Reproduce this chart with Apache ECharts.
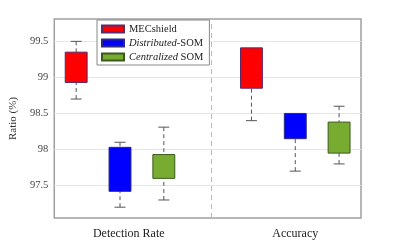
<!DOCTYPE html>
<html><head><meta charset="utf-8">
<script src="https://cdn.jsdelivr.net/npm/echarts@6/dist/echarts.min.js"></script>
<style>html,body{margin:0;padding:0;background:#fff}#c{width:399px;height:245px}</style>
</head><body><div id="c"></div>
<script>
// Data
var groupNames = ['Detection Rate', 'Accuracy'];
var groupLabelPos = [2.2, 6];
var seriesNames = ['MECshield', 'Distributed-SOM', 'Centralized SOM'];
// each item: [x position, min, q1, q3, max]
var mecshield = [[1, 98.70, 98.93, 99.35, 99.50], [5, 98.40, 98.85, 99.41, 99.41]];
var distributedSom = [[2, 97.20, 97.42, 98.03, 98.10], [6, 97.70, 98.15, 98.50, 98.50]];
var centralizedSom = [[3, 97.30, 97.60, 97.93, 98.31], [7, 97.80, 97.95, 98.38, 98.60]];
var yTicks = [97.5, 98, 98.5, 99, 99.5];
var separatorPos = 4.08;

var fills = ['#ff0000', '#0000ff', '#77ac30'];
var borders = ['#5b2a6e', '#2a2a80', '#3b5a1c'];
var FONT = '"Liberation Serif", "DejaVu Serif", serif';

function renderBox(params, api) {
  var x = api.value(0), mn = api.value(1), q1 = api.value(2), q3 = api.value(3), mx = api.value(4);
  var halfW = 0.25, capW = 0.125;
  var pL = api.coord([x - halfW, q3]);
  var pR = api.coord([x + halfW, q1]);
  var top = api.coord([x, mx]), uq = api.coord([x, q3]), lq = api.coord([x, q1]), bot = api.coord([x, mn]);
  var capL = api.coord([x - capW, mx])[0], capR = api.coord([x + capW, mx])[0];
  var wStyle = {stroke: '#555', lineWidth: 1, lineDash: [4, 3]};
  var cStyle = {stroke: '#555', lineWidth: 1};
  var children = [];
  if (mx > q3) {
    children.push({type: 'line', shape: {x1: top[0], y1: top[1], x2: uq[0], y2: uq[1]}, style: wStyle});
    children.push({type: 'line', shape: {x1: capL, y1: top[1], x2: capR, y2: top[1]}, style: cStyle});
  }
  if (mn < q1) {
    children.push({type: 'line', shape: {x1: bot[0], y1: bot[1], x2: lq[0], y2: lq[1]}, style: wStyle});
    children.push({type: 'line', shape: {x1: capL, y1: bot[1], x2: capR, y2: bot[1]}, style: cStyle});
  }
  children.push({type: 'rect', shape: {x: pL[0], y: pL[1], width: pR[0] - pL[0], height: pR[1] - pL[1]},
    style: {fill: fills[params.seriesIndex], stroke: borders[params.seriesIndex], lineWidth: 1}});
  return {type: 'group', children: children};
}

var datasets = [mecshield, distributedSom, centralizedSom];
var series = datasets.map(function (d, i) {
  return {
    name: seriesNames[i], type: 'custom', renderItem: renderBox, data: d,
    encode: {x: 0, y: [1, 2, 3, 4]},
    itemStyle: {color: fills[i], borderColor: borders[i], borderWidth: 1},
    z: 5
  };
});
series.push({
  type: 'line', data: [], silent: true, z: 1,
  markLine: {
    silent: true, symbol: 'none', label: {show: false}, z: 1,
    data: yTicks.map(function (v) { return {yAxis: v, lineStyle: {color: '#e6e6e6', width: 1, type: 'solid'}}; })
      .concat([{xAxis: separatorPos, lineStyle: {color: '#bbb', width: 1, type: [5, 4]}}])
  }
});

var chart = echarts.init(document.getElementById('c'), null, {renderer: 'canvas'});
chart.setOption({
  animation: false,
  textStyle: {fontFamily: FONT},
  grid: {left: 52, right: 38, top: 19, bottom: 27, show: true, borderColor: '#a0a0a0', borderWidth: 1.5, backgroundColor: 'transparent'},
  legend: {
    left: 97, top: 20, orient: 'vertical', icon: 'rect', itemWidth: 22, itemHeight: 7, itemGap: 2, z: 10,
    padding: [3, 6, 2, 4], backgroundColor: '#fff', borderColor: '#888', borderWidth: 1,
    data: seriesNames,
    formatter: function (n) {
      if (n === 'Distributed-SOM') return '{i|Distributed}-SOM';
      if (n === 'Centralized SOM') return '{i|Centralized} SOM';
      return n;
    },
    textStyle: {fontFamily: FONT, fontSize: 10.5, color: '#222', lineHeight: 12,
      rich: {i: {fontFamily: FONT, fontStyle: 'italic', fontSize: 10.5, color: '#222'}}}
  },
  xAxis: {
    type: 'value', min: 0.5, max: 7.5,
    axisLine: {show: false}, axisTick: {show: false}, splitLine: {show: false},
    axisLabel: {
      customValues: groupLabelPos, margin: 10, fontSize: 12, color: '#222', fontFamily: FONT,
      formatter: function (v) {
        var idx = groupLabelPos.indexOf(v);
        return idx >= 0 ? groupNames[idx] : '';
      }
    }
  },
  yAxis: [{
    type: 'value', min: 97.05, max: 99.81,
    name: 'Ratio (%)', nameLocation: 'middle', nameGap: 26, nameRotate: 90,
    nameTextStyle: {fontFamily: FONT, fontSize: 11, color: '#333'},
    axisLine: {show: false},
    axisTick: {show: true, inside: true, length: 4, customValues: yTicks, lineStyle: {color: '#888'}},
    axisLabel: {customValues: yTicks, margin: 6, fontSize: 10.5, color: '#444', fontFamily: FONT,
      formatter: function (v) { return String(v); }},
    splitLine: {show: false}
  }, {
    type: 'value', min: 97.05, max: 99.81, position: 'right',
    axisLine: {show: false},
    axisTick: {show: true, inside: true, length: 4, customValues: yTicks, lineStyle: {color: '#888'}},
    axisLabel: {show: false, customValues: yTicks},
    splitLine: {show: false}
  }],
  series: series
});
</script></body></html>
